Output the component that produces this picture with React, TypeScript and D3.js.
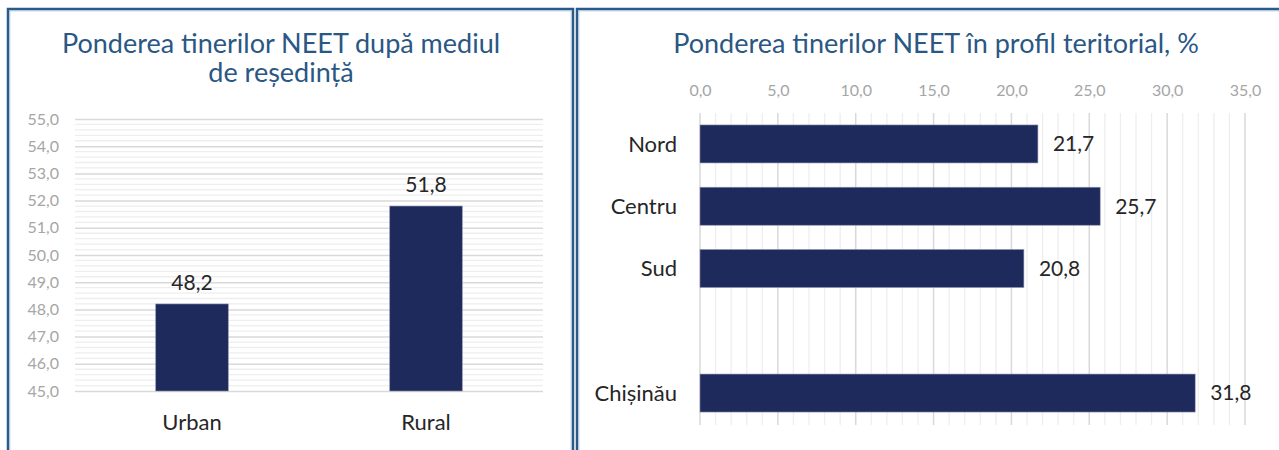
import { useRef, useEffect } from "react";
import * as d3 from "d3";

// left chart: by residence
const residence = ["Urban", "Rural"];
const residenceValues = [48.2, 51.8];
const residenceTicks = [45, 46, 47, 48, 49, 50, 51, 52, 53, 54, 55];

// right chart: by region (empty slot between Sud and Chișinău)
const regions = ["Nord", "Centru", "Sud", "", "Chișinău"];
const regionValues = [21.7, 25.7, 20.8, null, 31.8];
const regionTicks = [0, 5, 10, 15, 20, 25, 30, 35];

const leftTitle = ["Ponderea tinerilor NEET după mediul", "de reședință"];
const rightTitle = "Ponderea tinerilor NEET în profil teritorial, %";

const W = 1279;
const H = 450;
const FONT = "Lato, 'Open Sans', sans-serif";
const BAR = "#1f2a5c";
const TITLE = "#2a5784";
const fmt = (v: number) => v.toFixed(1).replace(".", ",");

const App = () => {
  const ref = useRef<SVGSVGElement | null>(null);

  useEffect(() => {
    const svg = d3.select(ref.current);
    svg.selectAll("*").remove();

    // panel frames
    const frame = (x: number, y: number, w: number, h: number) => {
      svg.append("rect").attr("x", x).attr("y", y).attr("width", w).attr("height", h)
        .attr("fill", "none").attr("stroke", "#2b5a88").attr("stroke-width", 2.5);
      svg.append("rect").attr("x", x + 1.8).attr("y", y + 1.8).attr("width", w - 3.6).attr("height", h - 3.6)
        .attr("fill", "none").attr("stroke", "#a8c2de").attr("stroke-width", 1);
    };
    frame(8, 9, 565, 460);
    frame(577, 9, 720, 460);

    // ---------- left chart ----------
    const left = svg.append("g");
    left.selectAll("text.title")
      .data(leftTitle)
      .enter()
      .append("text")
      .attr("x", 281)
      .attr("y", (_d, i) => 53 + i * 29)
      .attr("text-anchor", "middle")
      .attr("font-family", FONT)
      .attr("font-size", 27)
      .attr("fill", TITLE)
      .text((d) => d);

    const y = d3.scaleLinear().domain([45, 55]).range([391, 119]);
    const x = d3.scaleBand().domain(residence).range([75, 543]).paddingInner(0.69).paddingOuter(0.345);

    // minor gridlines every 0.2
    const minor = d3.range(45, 55.001, 0.2).filter((v) => Math.abs(v - Math.round(v)) > 0.01);
    left.selectAll("line.minor")
      .data(minor)
      .enter()
      .append("line")
      .attr("x1", 75).attr("x2", 543)
      .attr("y1", (d) => y(d)).attr("y2", (d) => y(d))
      .attr("stroke", "#eeeeee").attr("stroke-width", 1.3);

    const yAxis = d3.axisLeft(y).tickValues(residenceTicks).tickFormat((d) => fmt(+d)).tickSize(-468).tickPadding(16);
    const ya = left.append("g").attr("transform", "translate(75,0)").call(yAxis);
    ya.select(".domain").remove();
    ya.selectAll(".tick line").attr("stroke", "#d9d9d9").attr("stroke-width", 1.5);
    ya.selectAll(".tick text").attr("fill", "#a6a6a6").attr("font-family", FONT).attr("font-size", 16);

    left.selectAll("rect.bar")
      .data(residenceValues)
      .enter()
      .append("rect")
      .attr("x", (_d, i) => x(residence[i]) as number)
      .attr("y", (d) => y(d))
      .attr("width", x.bandwidth())
      .attr("height", (d) => y(45) - y(d))
      .attr("fill", BAR)
      .attr("stroke", "#8a90b0")
      .attr("stroke-width", 0.6);

    left.selectAll("text.val")
      .data(residenceValues)
      .enter()
      .append("text")
      .attr("x", (_d, i) => (x(residence[i]) as number) + x.bandwidth() / 2)
      .attr("y", (d) => y(d) - 14)
      .attr("text-anchor", "middle")
      .attr("font-family", FONT)
      .attr("font-size", 21)
      .attr("fill", "#262626")
      .text((d) => fmt(d));

    left.selectAll("text.cat")
      .data(residence)
      .enter()
      .append("text")
      .attr("x", (d) => (x(d) as number) + x.bandwidth() / 2)
      .attr("y", 430)
      .attr("text-anchor", "middle")
      .attr("font-family", FONT)
      .attr("font-size", 22)
      .attr("fill", "#262626")
      .text((d) => d);

    // ---------- right chart ----------
    const right = svg.append("g");
    right.append("text")
      .attr("x", 936)
      .attr("y", 53)
      .attr("text-anchor", "middle")
      .attr("font-family", FONT)
      .attr("font-size", 27)
      .attr("fill", TITLE)
      .text(rightTitle);

    const xs = d3.scaleLinear().domain([0, 35]).range([700, 1245]);
    const ys = d3.scaleBand()
      .domain(regions.map((r, i) => r || "gap" + i))
      .range([112.5, 424.5])
      .paddingInner(0.39)
      .paddingOuter(0.2);

    const minorX = d3.range(0, 35.001, 1).filter((v) => v % 5 !== 0);
    right.selectAll("line.minor")
      .data(minorX)
      .enter()
      .append("line")
      .attr("x1", (d) => xs(d)).attr("x2", (d) => xs(d))
      .attr("y1", 113).attr("y2", 425)
      .attr("stroke", "#eeeeee").attr("stroke-width", 1.3);

    const xAxis = d3.axisTop(xs).tickValues(regionTicks).tickFormat((d) => fmt(+d)).tickSize(0).tickPadding(0);
    const xa = right.append("g").attr("transform", "translate(0,96)").call(xAxis);
    xa.select(".domain").remove();
    xa.selectAll(".tick text").attr("fill", "#a6a6a6").attr("font-family", FONT).attr("font-size", 16);

    right.selectAll("line.major")
      .data(regionTicks)
      .enter()
      .append("line")
      .attr("x1", (d) => xs(d)).attr("x2", (d) => xs(d))
      .attr("y1", 113).attr("y2", 425)
      .attr("stroke", "#d9d9d9").attr("stroke-width", 1.5);

    const rows = regions
      .map((r, i) => ({ r, key: r || "gap" + i, v: regionValues[i] }))
      .filter((d) => d.v !== null) as { r: string; key: string; v: number }[];

    right.selectAll("rect.bar")
      .data(rows)
      .enter()
      .append("rect")
      .attr("x", xs(0))
      .attr("y", (d) => ys(d.key) as number)
      .attr("width", (d) => xs(d.v) - xs(0))
      .attr("height", ys.bandwidth())
      .attr("fill", BAR)
      .attr("stroke", "#8a90b0")
      .attr("stroke-width", 0.6);

    right.selectAll("text.val")
      .data(rows)
      .enter()
      .append("text")
      .attr("x", (d) => xs(d.v) + 15)
      .attr("y", (d) => (ys(d.key) as number) + ys.bandwidth() / 2)
      .attr("dy", "0.35em")
      .attr("font-family", FONT)
      .attr("font-size", 21)
      .attr("fill", "#262626")
      .text((d) => fmt(d.v));

    right.selectAll("text.cat")
      .data(rows)
      .enter()
      .append("text")
      .attr("x", 677)
      .attr("y", (d) => (ys(d.key) as number) + ys.bandwidth() / 2)
      .attr("dy", "0.35em")
      .attr("text-anchor", "end")
      .attr("font-family", FONT)
      .attr("font-size", 22)
      .attr("fill", "#262626")
      .text((d) => d.r);
  }, []);

  return (
    <svg
      ref={ref}
      width={W}
      height={H}
      style={{ position: "absolute", left: 0, top: 0, background: "#ffffff" }}
    />
  );
};

export default App;
